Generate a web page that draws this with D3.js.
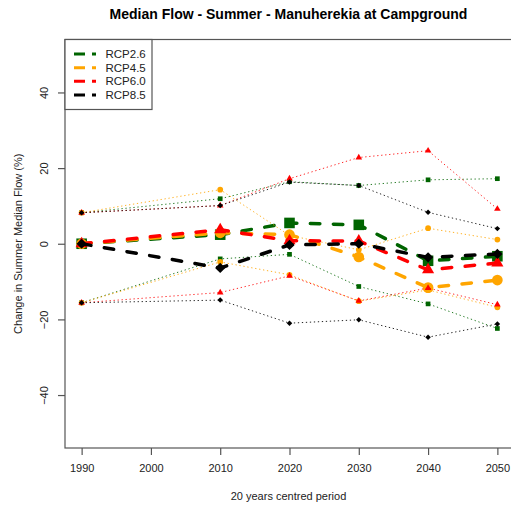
<!DOCTYPE html>
<html>
<head>
<meta charset="utf-8">
<script src="https://cdn.jsdelivr.net/npm/d3@7"></script>
<style>
  html, body { margin: 0; padding: 0; background: #fff; }
  svg { display: block; font-family: "Liberation Sans", Arial, sans-serif; }
</style>
</head>
<body>
<svg id="chart" width="511" height="511"></svg>
<script>
// Periods (centre year of each 20-year window)
const years = [1990, 2010, 2020, 2030, 2040, 2050];
const xTicks = [1990, 2000, 2010, 2020, 2030, 2040, 2050];
const yTicks = [-40, -20, 0, 20, 40];

const scenarioNames = ["RCP2.6", "RCP4.5", "RCP6.0", "RCP8.5"];
const scenarioColours = ["#006400", "#FFA500", "#FF0000", "#000000"];
const scenarioShapes = ["square", "circle", "triangle", "diamond"];

// Change in summer median flow (%), ensemble upper / mean / lower
const rcp26Upper = [8.2, 11.9, 16.4, 15.4, 16.9, 17.2];
const rcp26Mean  = [0, 2.4, 5.5, 5.0, -4.5, -3.3];
const rcp26Lower = [-15.6, -4.0, -2.8, -11.3, -15.9, -22.4];

const rcp45Upper = [8.2, 14.3, 2.2, -1.6, 4.1, 1.1];
const rcp45Mean  = [0, 2.9, 2.4, -3.5, -11.6, -9.6];
const rcp45Lower = [-15.6, -4.8, -8.2, -15.2, -12.2, -16.8];

const rcp60Upper = [8.2, 10.1, 17.2, 22.8, 24.6, 9.2];
const rcp60Mean  = [0, 3.7, 0.8, 0.7, -6.9, -5.1];
const rcp60Lower = [-15.6, -12.9, -8.5, -15.1, -11.7, -16.1];

const rcp85Upper = [8.2, 10.1, 16.3, 15.4, 8.3, 4.0];
const rcp85Mean  = [0, -6.4, -0.3, 0.0, -3.6, -2.7];
const rcp85Lower = [-15.6, -14.9, -21.0, -20.1, -24.7, -21.2];

const scenarios = [
  { name: scenarioNames[0], colour: scenarioColours[0], shape: scenarioShapes[0], upper: rcp26Upper, mean: rcp26Mean, lower: rcp26Lower },
  { name: scenarioNames[1], colour: scenarioColours[1], shape: scenarioShapes[1], upper: rcp45Upper, mean: rcp45Mean, lower: rcp45Lower },
  { name: scenarioNames[2], colour: scenarioColours[2], shape: scenarioShapes[2], upper: rcp60Upper, mean: rcp60Mean, lower: rcp60Lower },
  { name: scenarioNames[3], colour: scenarioColours[3], shape: scenarioShapes[3], upper: rcp85Upper, mean: rcp85Mean, lower: rcp85Lower }
];

const svg = d3.select("#chart");
const plot = { left: 65, right: 514, top: 39.5, bottom: 448 };

const x = d3.scaleLinear().domain([1987.6, 2052.4]).range([plot.left, plot.right]);
const y = d3.scaleLinear().domain([-54, 54]).range([plot.bottom, plot.top]);

const axisColour = "#555";
const textColour = "#222";

// Symbol generators: big markers for the ensemble mean, small for the bounds
const symbolType = { square: d3.symbolSquare, circle: d3.symbolCircle, triangle: d3.symbolTriangle, diamond: d3.symbolSquare };
const bigSize = { square: 112, circle: 90, triangle: 64, diamond: 52 };
const smallSize = { square: 22, circle: 26, triangle: 19, diamond: 15 };
function marker(shape, big) {
  return d3.symbol().type(symbolType[shape]).size((big ? bigSize : smallSize)[shape])();
}
function markerTransform(shape, yr, v) {
  const rot = shape === "diamond" ? " rotate(45)" : "";
  return `translate(${x(yr)},${y(v)})${rot}`;
}

const line = d3.line().x((d, i) => x(years[i])).y(d => y(d));

const g = svg.append("g");

scenarios.forEach(s => {
  // dotted bounds
  [s.upper, s.lower].forEach(arr => {
    g.append("path")
      .attr("d", line(arr))
      .attr("fill", "none")
      .attr("stroke", s.colour)
      .attr("stroke-width", 1)
      .attr("stroke-dasharray", "1.3,2.7")
      .attr("opacity", 0.85);
    g.selectAll(null).data(arr).enter().append("path")
      .attr("d", marker(s.shape, false))
      .attr("transform", (d, i) => markerTransform(s.shape, years[i], d))
      .attr("fill", s.colour);
  });
  // dashed mean
  g.append("path")
    .attr("d", line(s.mean))
    .attr("fill", "none")
    .attr("stroke", s.colour)
    .attr("stroke-width", 3.5)
    .attr("stroke-linecap", "round")
    .attr("stroke-dasharray", "9.5,13.5");
  g.selectAll(null).data(s.mean).enter().append("path")
    .attr("d", marker(s.shape, true))
    .attr("transform", (d, i) => markerTransform(s.shape, years[i], d))
    .attr("fill", s.colour);
});

// Plot frame
svg.append("rect")
  .attr("x", plot.left).attr("y", plot.top)
  .attr("width", plot.right - plot.left).attr("height", plot.bottom - plot.top)
  .attr("fill", "none").attr("stroke", axisColour).attr("stroke-width", 1.2);

// Axes
const yAxis = svg.append("g")
  .attr("transform", `translate(${plot.left},0)`)
  .call(d3.axisLeft(y).tickValues(yTicks).tickSize(7).tickFormat(d3.format("d")));
yAxis.select(".domain").remove();
yAxis.selectAll(".tick line").attr("stroke", axisColour).attr("stroke-width", 1.2);
yAxis.selectAll(".tick text")
  .attr("x", 0).attr("y", -17.5).attr("dy", 0)
  .attr("transform", "rotate(-90)")
  .attr("text-anchor", "middle")
  .attr("fill", textColour)
  .style("font-size", "11px")
  .style("font-family", "'Liberation Sans', Arial, sans-serif");

const xAxis = svg.append("g")
  .attr("transform", `translate(0,${plot.bottom})`)
  .call(d3.axisBottom(x).tickValues(xTicks).tickSize(7).tickFormat(d3.format("d")));
xAxis.select(".domain").remove();
xAxis.selectAll(".tick line").attr("stroke", axisColour).attr("stroke-width", 1.2);
xAxis.selectAll(".tick text")
  .attr("y", 24).attr("dy", 0)
  .attr("fill", textColour)
  .style("font-size", "11px")
  .style("font-family", "'Liberation Sans', Arial, sans-serif");

// Titles
svg.append("text")
  .attr("x", (plot.left + plot.right) / 2 - 1).attr("y", 18.5)
  .attr("text-anchor", "middle")
  .attr("font-weight", "bold").attr("font-size", 14)
  .attr("fill", "#000")
  .text("Median Flow - Summer - Manuherekia at Campground");

svg.append("text")
  .attr("x", (plot.left + plot.right) / 2 - 1).attr("y", 500)
  .attr("text-anchor", "middle").attr("font-size", 11)
  .attr("fill", textColour)
  .text("20 years centred period");

svg.append("text")
  .attr("transform", `translate(22,${(plot.top + plot.bottom) / 2}) rotate(-90)`)
  .attr("text-anchor", "middle").attr("font-size", 11)
  .attr("fill", textColour)
  .text("Change in Summer Median Flow (%)");

// Legend
const legend = svg.append("g");
legend.append("rect")
  .attr("x", plot.left).attr("y", plot.top)
  .attr("width", 87).attr("height", 70)
  .attr("fill", "#fff").attr("stroke", axisColour).attr("stroke-width", 1.2);
const legendY = d3.scalePoint().domain(scenarioNames).range([54, 95]);
scenarios.forEach(s => {
  legend.append("line")
    .attr("x1", 74).attr("x2", 96)
    .attr("y1", legendY(s.name)).attr("y2", legendY(s.name))
    .attr("stroke", s.colour).attr("stroke-width", 3)
    .attr("stroke-dasharray", "11,7");
  legend.append("text")
    .attr("x", 105.5).attr("y", legendY(s.name)).attr("dy", "0.36em")
    .attr("font-size", 11.5).attr("fill", textColour)
    .text(s.name);
});
</script>
</body>
</html>
